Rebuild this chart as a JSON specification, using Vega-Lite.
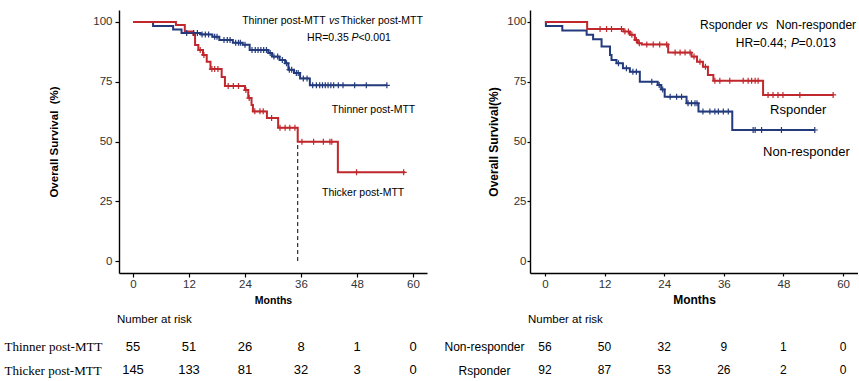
{
  "$schema": "https://vega.github.io/schema/vega-lite/v6.json",
  "padding": {"left": 4, "top": 10, "right": 0, "bottom": 0},
  "autosize": {"type": "pad"},
  "background": "white",
  "config": {
    "view": {"stroke": null},
    "font": "Liberation Sans",
    "axis": {"grid": false, "domainColor": "#000000", "domainWidth": 1.4, "tickColor": "#000000", "tickWidth": 1.2, "labelColor": "#333333", "labelFont": "Liberation Sans", "labelFontSize": 11.5, "titleFont": "Liberation Sans", "titleFontWeight": "bold", "titleColor": "#000000"}
  },
  "datasets": {
    "leftCurve": [
      {"g": "Thinner", "m": 0, "s": 100}, {"g": "Thinner", "m": 4.3, "s": 98.3}, {"g": "Thinner", "m": 8.6, "s": 96.8}, {"g": "Thinner", "m": 10.4, "s": 95.4}, {"g": "Thinner", "m": 14.5, "s": 94.8}, {"g": "Thinner", "m": 17.0, "s": 93.8}, {"g": "Thinner", "m": 18.5, "s": 92.5}, {"g": "Thinner", "m": 21.4, "s": 91.3}, {"g": "Thinner", "m": 23.5, "s": 90.5}, {"g": "Thinner", "m": 25.0, "s": 88.3}, {"g": "Thinner", "m": 29.0, "s": 87.0}, {"g": "Thinner", "m": 29.8, "s": 85.5}, {"g": "Thinner", "m": 31.4, "s": 84.1}, {"g": "Thinner", "m": 32.6, "s": 82.7}, {"g": "Thinner", "m": 33.3, "s": 80.0}, {"g": "Thinner", "m": 34.5, "s": 78.7}, {"g": "Thinner", "m": 35.8, "s": 76.4}, {"g": "Thinner", "m": 37.9, "s": 73.5}, {"g": "Thinner", "m": 54.4, "s": 73.5},
      {"g": "Thicker", "m": 0, "s": 100}, {"g": "Thicker", "m": 9.2, "s": 98.7}, {"g": "Thicker", "m": 11.1, "s": 96.0}, {"g": "Thicker", "m": 12.9, "s": 94.6}, {"g": "Thicker", "m": 13.3, "s": 90.4}, {"g": "Thicker", "m": 14.0, "s": 88.3}, {"g": "Thicker", "m": 15.0, "s": 86.2}, {"g": "Thicker", "m": 15.8, "s": 83.4}, {"g": "Thicker", "m": 16.6, "s": 80.3}, {"g": "Thicker", "m": 19.0, "s": 77.0}, {"g": "Thicker", "m": 19.7, "s": 73.2}, {"g": "Thicker", "m": 24.0, "s": 71.5}, {"g": "Thicker", "m": 24.7, "s": 68.2}, {"g": "Thicker", "m": 25.4, "s": 65.3}, {"g": "Thicker", "m": 25.7, "s": 62.6}, {"g": "Thicker", "m": 28.7, "s": 59.8}, {"g": "Thicker", "m": 31.1, "s": 55.8}, {"g": "Thicker", "m": 35.3, "s": 49.9}, {"g": "Thicker", "m": 43.9, "s": 37.1}, {"g": "Thicker", "m": 58.3, "s": 37.1}
    ],
    "leftCensor": [
      {"g": "Thinner", "m": 11.5, "s": 95.4}, {"g": "Thinner", "m": 13.0, "s": 95.4}, {"g": "Thinner", "m": 13.8, "s": 95.4}, {"g": "Thinner", "m": 14.8, "s": 94.8}, {"g": "Thinner", "m": 15.5, "s": 94.8}, {"g": "Thinner", "m": 16.2, "s": 94.8}, {"g": "Thinner", "m": 17.5, "s": 93.8}, {"g": "Thinner", "m": 18.0, "s": 93.8}, {"g": "Thinner", "m": 19.5, "s": 92.5}, {"g": "Thinner", "m": 20.2, "s": 92.5}, {"g": "Thinner", "m": 20.8, "s": 92.5}, {"g": "Thinner", "m": 22.0, "s": 91.3}, {"g": "Thinner", "m": 22.6, "s": 91.3}, {"g": "Thinner", "m": 23.0, "s": 91.3}, {"g": "Thinner", "m": 24.0, "s": 90.5}, {"g": "Thinner", "m": 25.5, "s": 88.3}, {"g": "Thinner", "m": 26.2, "s": 88.3}, {"g": "Thinner", "m": 26.8, "s": 88.3}, {"g": "Thinner", "m": 27.4, "s": 88.3}, {"g": "Thinner", "m": 28.0, "s": 88.3}, {"g": "Thinner", "m": 28.6, "s": 88.3}, {"g": "Thinner", "m": 29.4, "s": 87.0}, {"g": "Thinner", "m": 30.2, "s": 85.5}, {"g": "Thinner", "m": 31.0, "s": 85.5}, {"g": "Thinner", "m": 32.0, "s": 84.1}, {"g": "Thinner", "m": 32.9, "s": 82.7}, {"g": "Thinner", "m": 33.5, "s": 80.0}, {"g": "Thinner", "m": 34.0, "s": 80.0}, {"g": "Thinner", "m": 35.0, "s": 78.7}, {"g": "Thinner", "m": 35.4, "s": 78.7}, {"g": "Thinner", "m": 36.5, "s": 76.4}, {"g": "Thinner", "m": 37.3, "s": 76.4}, {"g": "Thinner", "m": 38.5, "s": 73.5}, {"g": "Thinner", "m": 39.3, "s": 73.5}, {"g": "Thinner", "m": 40.0, "s": 73.5}, {"g": "Thinner", "m": 40.6, "s": 73.5}, {"g": "Thinner", "m": 41.2, "s": 73.5}, {"g": "Thinner", "m": 41.8, "s": 73.5}, {"g": "Thinner", "m": 42.4, "s": 73.5}, {"g": "Thinner", "m": 43.0, "s": 73.5}, {"g": "Thinner", "m": 44.0, "s": 73.5}, {"g": "Thinner", "m": 45.0, "s": 73.5}, {"g": "Thinner", "m": 47.5, "s": 73.5}, {"g": "Thinner", "m": 50.0, "s": 73.5}, {"g": "Thinner", "m": 54.4, "s": 73.5},
      {"g": "Thicker", "m": 14.4, "s": 88.3}, {"g": "Thicker", "m": 15.2, "s": 86.2}, {"g": "Thicker", "m": 16.9, "s": 80.3}, {"g": "Thicker", "m": 17.5, "s": 80.3}, {"g": "Thicker", "m": 18.2, "s": 80.3}, {"g": "Thicker", "m": 20.4, "s": 73.2}, {"g": "Thicker", "m": 21.5, "s": 73.2}, {"g": "Thicker", "m": 22.6, "s": 73.2}, {"g": "Thicker", "m": 24.2, "s": 71.5}, {"g": "Thicker", "m": 24.9, "s": 68.2}, {"g": "Thicker", "m": 26.1, "s": 62.6}, {"g": "Thicker", "m": 27.2, "s": 62.6}, {"g": "Thicker", "m": 27.9, "s": 62.6}, {"g": "Thicker", "m": 29.7, "s": 59.8}, {"g": "Thicker", "m": 31.5, "s": 55.8}, {"g": "Thicker", "m": 32.6, "s": 55.8}, {"g": "Thicker", "m": 33.6, "s": 55.8}, {"g": "Thicker", "m": 34.7, "s": 55.8}, {"g": "Thicker", "m": 36.2, "s": 49.9}, {"g": "Thicker", "m": 38.7, "s": 49.9}, {"g": "Thicker", "m": 40.8, "s": 49.9}, {"g": "Thicker", "m": 42.2, "s": 49.9}, {"g": "Thicker", "m": 42.6, "s": 49.9}, {"g": "Thicker", "m": 47.9, "s": 37.1}, {"g": "Thicker", "m": 58.0, "s": 37.1}
    ],
    "rightCurve": [
      {"g": "Non", "m": 0, "s": 100}, {"g": "Non", "m": 0.2, "s": 98.3}, {"g": "Non", "m": 3.5, "s": 96.4}, {"g": "Non", "m": 8.4, "s": 94.6}, {"g": "Non", "m": 9.7, "s": 92.8}, {"g": "Non", "m": 11.4, "s": 89.7}, {"g": "Non", "m": 13.1, "s": 86.2}, {"g": "Non", "m": 13.4, "s": 84.1}, {"g": "Non", "m": 14.4, "s": 82.7}, {"g": "Non", "m": 15.7, "s": 80.6}, {"g": "Non", "m": 17.1, "s": 79.2}, {"g": "Non", "m": 19.1, "s": 75.0}, {"g": "Non", "m": 22.7, "s": 73.6}, {"g": "Non", "m": 23.4, "s": 71.8}, {"g": "Non", "m": 24.1, "s": 68.7}, {"g": "Non", "m": 28.5, "s": 66.0}, {"g": "Non", "m": 30.9, "s": 62.5}, {"g": "Non", "m": 37.7, "s": 54.8}, {"g": "Non", "m": 54.3, "s": 54.8},
      {"g": "Rsp", "m": 0, "s": 100}, {"g": "Rsp", "m": 8.5, "s": 97.1}, {"g": "Rsp", "m": 15.8, "s": 96.0}, {"g": "Rsp", "m": 17.1, "s": 94.6}, {"g": "Rsp", "m": 18.1, "s": 92.5}, {"g": "Rsp", "m": 18.7, "s": 91.1}, {"g": "Rsp", "m": 19.5, "s": 90.6}, {"g": "Rsp", "m": 24.8, "s": 87.2}, {"g": "Rsp", "m": 29.5, "s": 85.5}, {"g": "Rsp", "m": 30.6, "s": 83.4}, {"g": "Rsp", "m": 31.8, "s": 81.3}, {"g": "Rsp", "m": 32.8, "s": 77.8}, {"g": "Rsp", "m": 33.9, "s": 75.4}, {"g": "Rsp", "m": 43.9, "s": 69.5}, {"g": "Rsp", "m": 58.0, "s": 69.5}
    ],
    "rightCensor": [
      {"g": "Non", "m": 14.8, "s": 82.7}, {"g": "Non", "m": 16.4, "s": 80.6}, {"g": "Non", "m": 17.7, "s": 79.2}, {"g": "Non", "m": 18.4, "s": 79.2}, {"g": "Non", "m": 21.5, "s": 75.0}, {"g": "Non", "m": 23.0, "s": 73.6}, {"g": "Non", "m": 23.7, "s": 71.8}, {"g": "Non", "m": 25.2, "s": 68.7}, {"g": "Non", "m": 26.5, "s": 68.7}, {"g": "Non", "m": 27.5, "s": 68.7}, {"g": "Non", "m": 28.8, "s": 66.0}, {"g": "Non", "m": 29.5, "s": 66.0}, {"g": "Non", "m": 30.2, "s": 66.0}, {"g": "Non", "m": 30.6, "s": 66.0}, {"g": "Non", "m": 31.8, "s": 62.5}, {"g": "Non", "m": 33.2, "s": 62.5}, {"g": "Non", "m": 34.2, "s": 62.5}, {"g": "Non", "m": 34.9, "s": 62.5}, {"g": "Non", "m": 35.9, "s": 62.5}, {"g": "Non", "m": 36.9, "s": 62.5}, {"g": "Non", "m": 41.9, "s": 54.8}, {"g": "Non", "m": 42.3, "s": 54.8}, {"g": "Non", "m": 43.6, "s": 54.8}, {"g": "Non", "m": 47.6, "s": 54.8}, {"g": "Non", "m": 54.3, "s": 54.8},
      {"g": "Rsp", "m": 11.1, "s": 97.1}, {"g": "Rsp", "m": 12.4, "s": 97.1}, {"g": "Rsp", "m": 13.4, "s": 97.1}, {"g": "Rsp", "m": 15.4, "s": 97.1}, {"g": "Rsp", "m": 16.1, "s": 96.0}, {"g": "Rsp", "m": 16.8, "s": 96.0}, {"g": "Rsp", "m": 17.5, "s": 94.6}, {"g": "Rsp", "m": 18.4, "s": 92.5}, {"g": "Rsp", "m": 19.0, "s": 91.1}, {"g": "Rsp", "m": 20.5, "s": 90.6}, {"g": "Rsp", "m": 21.8, "s": 90.6}, {"g": "Rsp", "m": 23.1, "s": 90.6}, {"g": "Rsp", "m": 24.5, "s": 90.6}, {"g": "Rsp", "m": 26.2, "s": 87.2}, {"g": "Rsp", "m": 27.2, "s": 87.2}, {"g": "Rsp", "m": 28.2, "s": 87.2}, {"g": "Rsp", "m": 29.2, "s": 87.2}, {"g": "Rsp", "m": 30.0, "s": 85.5}, {"g": "Rsp", "m": 31.2, "s": 83.4}, {"g": "Rsp", "m": 32.3, "s": 81.3}, {"g": "Rsp", "m": 34.2, "s": 75.4}, {"g": "Rsp", "m": 35.2, "s": 75.4}, {"g": "Rsp", "m": 37.2, "s": 75.4}, {"g": "Rsp", "m": 39.9, "s": 75.4}, {"g": "Rsp", "m": 40.9, "s": 75.4}, {"g": "Rsp", "m": 41.6, "s": 75.4}, {"g": "Rsp", "m": 42.3, "s": 75.4}, {"g": "Rsp", "m": 42.9, "s": 75.4}, {"g": "Rsp", "m": 44.9, "s": 69.5}, {"g": "Rsp", "m": 45.9, "s": 69.5}, {"g": "Rsp", "m": 46.9, "s": 69.5}, {"g": "Rsp", "m": 47.9, "s": 69.5}, {"g": "Rsp", "m": 51.3, "s": 69.5}, {"g": "Rsp", "m": 58.0, "s": 69.5}
    ],
    "leftRisk": [
      {"grp": "Thinner post-MTT", "m": 0, "n": "55"}, {"grp": "Thinner post-MTT", "m": 12, "n": "51"}, {"grp": "Thinner post-MTT", "m": 24, "n": "26"}, {"grp": "Thinner post-MTT", "m": 36, "n": "8"}, {"grp": "Thinner post-MTT", "m": 48, "n": "1"}, {"grp": "Thinner post-MTT", "m": 60, "n": "0"},
      {"grp": "Thicker post-MTT", "m": 0, "n": "145"}, {"grp": "Thicker post-MTT", "m": 12, "n": "133"}, {"grp": "Thicker post-MTT", "m": 24, "n": "81"}, {"grp": "Thicker post-MTT", "m": 36, "n": "32"}, {"grp": "Thicker post-MTT", "m": 48, "n": "3"}, {"grp": "Thicker post-MTT", "m": 60, "n": "0"}
    ],
    "rightRisk": [
      {"grp": "Non-responder", "m": 0, "n": "56"}, {"grp": "Non-responder", "m": 12, "n": "50"}, {"grp": "Non-responder", "m": 24, "n": "32"}, {"grp": "Non-responder", "m": 36, "n": "9"}, {"grp": "Non-responder", "m": 48, "n": "1"}, {"grp": "Non-responder", "m": 60, "n": "0"},
      {"grp": "Rsponder", "m": 0, "n": "92"}, {"grp": "Rsponder", "m": 12, "n": "87"}, {"grp": "Rsponder", "m": 24, "n": "53"}, {"grp": "Rsponder", "m": 36, "n": "26"}, {"grp": "Rsponder", "m": 48, "n": "2"}, {"grp": "Rsponder", "m": 60, "n": "0"}
    ]
  },
  "bounds": "flush",
  "spacing": 411,
  "hconcat": [
    {
      "bounds": "flush",
      "spacing": 62,
      "vconcat": [
        {
          "width": 308,
          "height": 263,
          "encoding": {
            "x": {"field": "m", "type": "quantitative", "scale": {"domain": [-3, 63], "nice": false, "zero": false}, "axis": {"values": [0, 12, 24, 36, 48, 60], "title": "Months", "tickSize": 4, "labelPadding": 1, "titlePadding": 6, "titleFontSize": 10.5}},
            "y": {"field": "s", "type": "quantitative", "scale": {"domain": [-5, 105], "nice": false, "zero": false}, "axis": {"values": [0, 25, 50, 75, 100], "title": "Overall Survival \u00a0(%)", "tickSize": 4, "labelPadding": 3, "titlePadding": 33, "titleFontSize": 11.5}}
          },
          "layer": [
            {"data": {"values": [{"m": 35.3, "s": 0, "s2": 49.9}]}, "mark": {"type": "rule", "strokeDash": [4, 3], "color": "#000000", "strokeWidth": 1}, "encoding": {"y2": {"field": "s2"}}},
            {"data": {"name": "leftCurve"}, "mark": {"type": "line", "interpolate": "step-after", "strokeWidth": 2}, "encoding": {"color": {"field": "g", "type": "nominal", "scale": {"domain": ["Thinner", "Thicker"], "range": ["#233a7d", "#c0282d"]}, "legend": null}, "order": {"field": "m", "type": "quantitative"}}},
            {"data": {"name": "leftCensor"}, "mark": {"type": "point", "shape": "M-1,0H1M0,-1V1", "filled": false, "strokeWidth": 1.2, "size": 36, "opacity": 1}, "encoding": {"color": {"field": "g", "type": "nominal", "scale": {"domain": ["Thinner", "Thicker"], "range": ["#233a7d", "#c0282d"]}, "legend": null}}},
            {"data": {"values": [{"m": 23.4, "s": 100.4, "t": "Thinner post-MTT"}, {"m": 44.5, "s": 100.4, "t": "Thicker post-MTT"}, {"m": 37.3, "s": 93.3, "t": "HR=0.35"}, {"m": 48.3, "s": 93.3, "t": "<0.001"}, {"m": 42.6, "s": 63.2, "t": "Thinner post-MTT"}, {"m": 40.5, "s": 28.5, "t": "Thicker post-MTT"}]}, "mark": {"type": "text", "align": "left", "baseline": "middle", "fontSize": 10.5, "color": "#000000"}, "encoding": {"text": {"field": "t"}}},
            {"data": {"values": [{"m": 42.0, "s": 100.4, "t": "vs"}, {"m": 46.8, "s": 93.3, "t": "P"}]}, "mark": {"type": "text", "align": "left", "baseline": "middle", "fontSize": 10.5, "fontStyle": "italic", "color": "#000000"}, "encoding": {"text": {"field": "t"}}}
          ]
        },
        {
          "width": 308,
          "height": 47,
          "title": {"text": "Number at risk", "anchor": "start", "frame": "group", "fontSize": 11.5, "fontWeight": "normal", "font": "Liberation Sans", "dx": -2, "offset": 10},
          "data": {"name": "leftRisk"},
          "mark": {"type": "text", "fontSize": 13, "color": "#000000", "baseline": "middle"},
          "encoding": {
            "x": {"field": "m", "type": "quantitative", "scale": {"domain": [-3, 63], "nice": false, "zero": false}, "axis": null},
            "y": {"field": "grp", "type": "nominal", "sort": ["Thinner post-MTT", "Thicker post-MTT"], "axis": {"title": null, "domain": false, "ticks": false, "tickSize": 0, "labelAlign": "left", "labelPadding": 115, "labelFont": "Liberation Serif", "labelFontSize": 13, "labelColor": "#000000"}},
            "text": {"field": "n"}
          }
        }
      ]
    },
    {
      "bounds": "flush",
      "spacing": 62,
      "vconcat": [
        {
          "width": 328,
          "height": 263,
          "encoding": {
            "x": {"field": "m", "type": "quantitative", "scale": {"domain": [-3, 63], "nice": false, "zero": false}, "axis": {"values": [0, 12, 24, 36, 48, 60], "title": "Months", "tickSize": 3, "labelPadding": 2, "titlePadding": 5, "titleFontSize": 12}},
            "y": {"field": "s", "type": "quantitative", "scale": {"domain": [-5, 105], "nice": false, "zero": false}, "axis": {"values": [0, 25, 50, 75, 100], "title": "Overall Survival(%)", "tickSize": 3, "labelPadding": 1, "titlePadding": 6, "titleFontSize": 12}}
          },
          "layer": [
            {"data": {"name": "rightCurve"}, "mark": {"type": "line", "interpolate": "step-after", "strokeWidth": 2}, "encoding": {"color": {"field": "g", "type": "nominal", "scale": {"domain": ["Non", "Rsp"], "range": ["#233a7d", "#c0282d"]}, "legend": null}, "order": {"field": "m", "type": "quantitative"}}},
            {"data": {"name": "rightCensor"}, "mark": {"type": "point", "shape": "M-1,0H1M0,-1V1", "filled": false, "strokeWidth": 1.2, "size": 36, "opacity": 1}, "encoding": {"color": {"field": "g", "type": "nominal", "scale": {"domain": ["Non", "Rsp"], "range": ["#233a7d", "#c0282d"]}, "legend": null}}},
            {"data": {"values": [{"m": 31.2, "s": 98.7, "t": "Rsponder"}, {"m": 46.5, "s": 98.7, "t": "Non-responder"}, {"m": 38.4, "s": 91.2, "t": "HR=0.44;"}, {"m": 51.1, "s": 91.2, "t": "=0.013"}]}, "mark": {"type": "text", "align": "left", "baseline": "middle", "fontSize": 12, "color": "#000000"}, "encoding": {"text": {"field": "t"}}},
            {"data": {"values": [{"m": 45.3, "s": 63.2, "t": "Rsponder"}, {"m": 43.9, "s": 45.6, "t": "Non-responder"}]}, "mark": {"type": "text", "align": "left", "baseline": "middle", "fontSize": 13, "color": "#000000"}, "encoding": {"text": {"field": "t"}}},
            {"data": {"values": [{"m": 42.5, "s": 98.7, "t": "vs"}, {"m": 49.5, "s": 91.2, "t": "P"}]}, "mark": {"type": "text", "align": "left", "baseline": "middle", "fontSize": 12, "fontStyle": "italic", "color": "#000000"}, "encoding": {"text": {"field": "t"}}}
          ]
        },
        {
          "width": 328,
          "height": 47,
          "title": {"text": "Number at risk", "anchor": "start", "frame": "group", "fontSize": 11.5, "fontWeight": "normal", "font": "Liberation Sans", "dx": -2, "offset": 10},
          "data": {"name": "rightRisk"},
          "mark": {"type": "text", "fontSize": 12, "color": "#000000", "baseline": "middle"},
          "encoding": {
            "x": {"field": "m", "type": "quantitative", "scale": {"domain": [-3, 63], "nice": false, "zero": false}, "axis": null},
            "y": {"field": "grp", "type": "nominal", "sort": ["Non-responder", "Rsponder"], "axis": {"title": null, "domain": false, "ticks": false, "tickSize": 0, "labelAlign": "center", "labelPadding": 46, "labelFont": "Liberation Sans", "labelFontSize": 12, "labelColor": "#000000"}},
            "text": {"field": "n"}
          }
        }
      ]
    }
  ]
}
